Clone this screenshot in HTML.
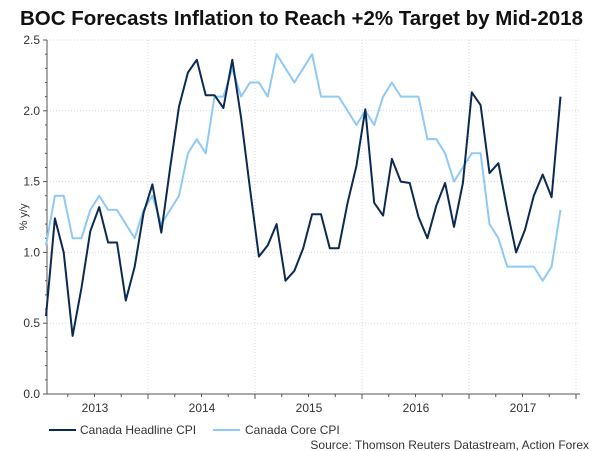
<!DOCTYPE html>
<html><head><meta charset="utf-8"><style>
html,body{margin:0;padding:0;background:#fff;}
svg{display:block;font-family:"Liberation Sans",Arial,sans-serif;}
</style></head><body>
<svg id="c" width="600" height="451" viewBox="0 0 600 451" xmlns="http://www.w3.org/2000/svg">
<text x="20" y="25" font-size="20" font-weight="bold" fill="#111" textLength="563" lengthAdjust="spacingAndGlyphs">BOC Forecasts Inflation to Reach +2% Target by Mid-2018</text>
<g id="grid" stroke="#d8d8d8" stroke-width="1" stroke-dasharray="1,2"></g>
<g id="axes" stroke="#555" stroke-width="1"></g>
<g id="lbl" font-size="12" fill="#333"></g>
<polyline id="core" fill="none" stroke="#8fc9f5" stroke-width="2" stroke-linejoin="round"/>
<polyline id="head" fill="none" stroke="#0b2a52" stroke-width="2" stroke-linejoin="round"/>
<text transform="translate(27,217) rotate(-90)" font-size="11" fill="#333" text-anchor="middle">% y/y</text>
<line x1="49" y1="430" x2="76" y2="430" stroke="#0b2a52" stroke-width="2"/>
<text x="80" y="434" font-size="12" fill="#333">Canada Headline CPI</text>
<line x1="213" y1="430" x2="240" y2="430" stroke="#8fc9f5" stroke-width="2"/>
<text x="245" y="434" font-size="12" fill="#333">Canada Core CPI</text>
<text x="589" y="449" font-size="12" fill="#333" text-anchor="end">Source: Thomson Reuters Datastream, Action Forex</text>
</svg>
<script>
var y0=394,k=141.6,x0=46,dx=8.87,L=47,R=580;
var head=[0.55,1.24,1.0,0.41,0.75,1.15,1.32,1.07,1.07,0.66,0.9,1.28,1.48,1.14,1.6,2.03,2.27,2.36,2.11,2.11,2.02,2.36,1.95,1.45,0.97,1.05,1.2,0.8,0.87,
1.03,1.27,1.27,1.03,1.03,1.35,1.61,2.01,1.35,1.26,1.66,1.50,1.49,1.25,1.10,1.33,1.49,1.18,1.49,2.13,2.04,1.56,1.63,1.30,1.00,1.16,1.40,1.55,1.39,2.10];
var core=[1.05,1.4,1.4,1.1,1.1,1.3,1.4,1.3,1.3,1.2,1.1,1.3,1.4,1.2,1.3,1.4,1.7,1.8,1.7,2.1,2.1,2.3,2.1,2.2,2.2,2.1,2.4,2.3,2.2,
2.3,2.4,2.1,2.1,2.1,2.0,1.9,2.0,1.9,2.1,2.2,2.1,2.1,2.1,1.8,1.8,1.7,1.5,1.6,1.7,1.7,1.2,1.1,0.9,0.9,0.9,0.9,0.8,0.9,1.3];
function pts(a){return a.map(function(v,i){return (x0+i*dx).toFixed(1)+","+(y0-v*k).toFixed(1)}).join(" ");}
document.getElementById("head").setAttribute("points",pts(head));
document.getElementById("core").setAttribute("points",pts(core));
var ns="http://www.w3.org/2000/svg";
function el(p,t,a){var e=document.createElementNS(ns,t);for(var q in a)e.setAttribute(q,a[q]);document.getElementById(p).appendChild(e);return e;}
for(var v=0.5;v<=2.5;v+=0.5){var y=y0-v*k;el("grid","line",{x1:L,x2:R,y1:y,y2:y});}
var yrs=[148,255,362,469,576];
yrs.forEach(function(x){el("grid","line",{x1:x,x2:x,y1:40,y2:y0});});
el("axes","line",{x1:L,x2:L,y1:40,y2:y0});
el("axes","line",{x1:L,x2:R,y1:y0,y2:y0});
for(var v=0;v<=2.5001;v+=0.1){var y=y0-v*k;var big=Math.abs(v*2-Math.round(v*2))<0.01;el("axes","line",{x1:L-(big?4:2),x2:L,y1:y,y2:y});}
for(var m=-12;m<=60;m+=3){var x=148+(m)*107/12;if(x<L||x>R)continue;var big=(m%12==0);el("axes","line",{x1:x,x2:x,y1:y0,y2:y0+(big?5:3)});}
["0.0","0.5","1.0","1.5","2.0","2.5"].forEach(function(s,i){var t=el("lbl","text",{x:40,y:y0-i*0.5*k+4,"text-anchor":"end"});t.textContent=s;});
["2013","2014","2015","2016","2017"].forEach(function(s,i){var t=el("lbl","text",{x:95+i*107,y:412,"text-anchor":"middle"});t.textContent=s;});
</script>
</body></html>
